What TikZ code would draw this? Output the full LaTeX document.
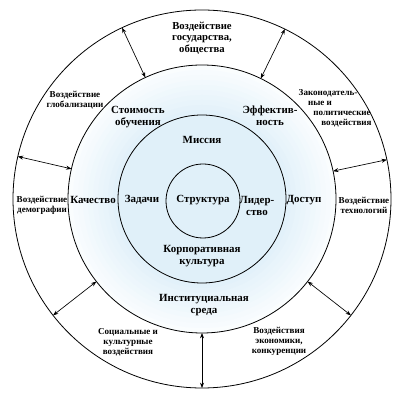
\documentclass[tikz,border=0pt]{standalone}
\usepackage{fontspec}
\setmainfont{Liberation Serif}
\usepackage{tikz}
\usetikzlibrary{arrows.meta,positioning,calc}

\definecolor{ringblue}{RGB}{222,239,249}

\begin{document}
\begin{tikzpicture}[
  x=0.75pt, y=-0.75pt,
  ring/.style={circle, draw, line width=0.6pt, inner sep=0pt, outer sep=0pt},
  outer/.style={font=\bfseries\fontsize{6.8}{7.6}\selectfont, align=center},
  major/.style={font=\bfseries\fontsize{8.2}{9.2}\selectfont, align=center},
  arr/.style={{Stealth[length=4pt,width=3pt]}-{Stealth[length=4pt,width=3pt]}, line width=0.5pt}
]
\useasboundingbox (0,0) rectangle (400,398);

\coordinate (c) at (202,199);

% soft blue fill, fading out towards the institutional ring
\foreach \k in {0,...,10}
  \fill[ringblue!\the\numexpr 15+8*\k\relax!white] (c) circle ({(134-5*\k)*0.75pt});

% rings
\node[ring, minimum size={378*0.75pt}] (env)  at (c) {};
\node[ring, minimum size={268*0.75pt}] (inst) at (c) {};
\node[ring, minimum size={168*0.75pt}] (corp) at (c) {};
\node[ring, minimum size={74*0.75pt}]  (core) at ($(c)+(1,2)$) {};

% arrows between the institutional ring and the environment
\foreach \i in {0,...,6}
  \draw[arr] (inst.{-90+\i*360/7}) -- (env.{-90+\i*360/7});

% outer ring
\node[outer, font=\bfseries\fontsize{8}{8.6}\selectfont] (gov) at (202,38)
  {Воздействие\\государства,\\общества};
\node[outer, align=left, anchor=west] (law) at (294,108)
  {Законодатель-\\\hspace*{7pt}ные и\\\hspace*{11pt}политические\\\hspace*{17pt}воздействия};
\node[outer] (tech) at (364,205) {Воздействие\\технологий};
\node[outer] (econ) at (279,341) {Воздействия\\экономики,\\конкуренции};
\node[outer] (soc)  at (128,342) {Социальные и\\культурные\\воздействия};
\node[outer] (demo) at (42,205)  {Воздействие\\демографии};
\node[outer] (glob) at (75,100)  {Воздействие\\глобализации};

% institutional ring
\node[major] (cost) at (138,117) {Стоимость\\обучения};
\node[major] (eff)  at (270,116) {Эффектив-\\ность};
\node[major] (qual) at (93,200)  {Качество};
\node[major] (acc)  at (304,200) {Доступ};
\node[major] (env2) at (204,305) {Институциальная\\среда};

% corporate ring
\node[major] (miss) at (202,140) {Миссия};
\node[major] (task) at (142,200) {Задачи};
\node[major] (lead) at (257,206) {Лидер-\\ство};
\node[major] (cult) at (202,256) {Корпоративная\\культура};

% core
\node[major] (str)  at (203,200) {Структура};

\end{tikzpicture}
\end{document}
